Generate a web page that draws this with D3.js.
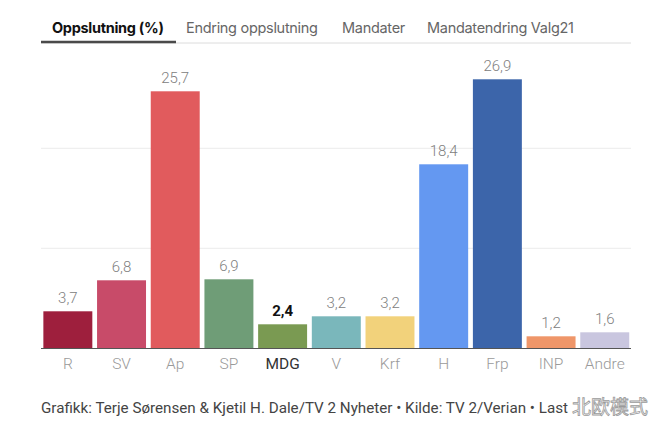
<!DOCTYPE html>
<html><head><meta charset="utf-8">
<script src="https://cdn.jsdelivr.net/npm/d3@7"></script>
<style>
html,body{margin:0;padding:0;background:#fff;}
svg{display:block;}
</style></head>
<body><svg id="c" width="660" height="430"></svg>
<script>
const parties = ["R","SV","Ap","SP","MDG","V","Krf","H","Frp","INP","Andre"];
const values = [3.7,6.8,25.7,6.9,2.4,3.2,3.2,18.4,26.9,1.2,1.6];
const colors = ["#9E1F3D","#C84B69","#E15B5D","#6F9D77","#7A9A52","#7AB7BB","#F2D27B","#6498F1","#3C65AA","#EF9669","#C9C6DF"];
const highlighted = "MDG";
const gridTicks = [10,20];
const tabs = ["Oppslutning (%)","Endring oppslutning","Mandater","Mandatendring Valg21"];
const tabX = [52,186,342,427];
const footer = "Grafikk: Terje Sørensen & Kjetil H. Dale/TV 2 Nyheter • Kilde: TV 2/Verian • Last";
const watermark = "北欧模式";

const svg = d3.select("#c");
const x = d3.scaleBand().domain(parties).range([41,631.6]).paddingInner(0.088).paddingOuter(0.044);
const y = d3.scaleLinear().domain([0,10]).range([348.3,248.3]);

// tabs
svg.append("line").attr("x1",41).attr("x2",631).attr("y1",43).attr("y2",43)
  .attr("stroke","#dcdcdc").attr("stroke-width",1);
svg.append("line").attr("x1",41).attr("x2",176).attr("y1",42).attr("y2",42)
  .attr("stroke","#4a4a4a").attr("stroke-width",2.5);
svg.selectAll("text.tab").data(tabs).join("text").attr("class","tab")
  .attr("x",(d,i)=>tabX[i]).attr("y",33)
  .attr("font-family","Inter, 'Noto Sans', sans-serif")
  .attr("font-size",14.5)
  .attr("font-weight",(d,i)=>i===0?700:400)
  .attr("fill",(d,i)=>i===0?"#111":"#666")
  .attr("letter-spacing",(d,i)=>i===0?-0.3:-0.3)
  .text(d=>d);

// grid
svg.selectAll("line.grid").data(gridTicks).join("line").attr("class","grid")
  .attr("x1",41).attr("x2",631).attr("y1",d=>y(d)).attr("y2",d=>y(d))
  .attr("stroke","#ebebeb").attr("stroke-width",1);

// bars
svg.selectAll("rect.bar").data(parties).join("rect").attr("class","bar")
  .attr("x",d=>x(d)).attr("width",x.bandwidth())
  .attr("y",(d,i)=>y(values[i])).attr("height",(d,i)=>y(0)-y(values[i]))
  .attr("fill",(d,i)=>colors[i]);

// baseline
svg.append("line").attr("x1",41).attr("x2",631).attr("y1",348.5).attr("y2",348.5)
  .attr("stroke","#555").attr("stroke-width",1.2);

// value labels
svg.selectAll("text.val").data(parties).join("text").attr("class","val")
  .attr("x",d=>x(d)+x.bandwidth()/2).attr("y",(d,i)=>y(values[i])-8)
  .attr("text-anchor","middle")
  .attr("font-family","Roboto, 'Liberation Sans', sans-serif")
  .attr("font-size",15)
  .attr("font-weight",d=>d===highlighted?700:300)
  .attr("fill",d=>d===highlighted?"#111":"#808080")
  .text((d,i)=>values[i].toFixed(1).replace(".",","));

// axis labels
svg.selectAll("text.cat").data(parties).join("text").attr("class","cat")
  .attr("x",d=>x(d)+x.bandwidth()/2).attr("y",369)
  .attr("text-anchor","middle")
  .attr("font-family","Roboto, 'Liberation Sans', sans-serif")
  .attr("font-size",15.5)
  .attr("font-weight",d=>d===highlighted?400:300)
  .attr("fill",d=>d===highlighted?"#333":"#9a9a9a")
  .text(d=>d);

// footer
svg.append("text").attr("x",41).attr("y",413)
  .attr("font-family","Roboto, 'Liberation Sans', sans-serif")
  .attr("font-size",15.2).attr("fill","#444")
  .text(footer);

// watermark
svg.append("text").attr("x",572).attr("y",414)
  .attr("font-family","'Noto Sans CJK SC', sans-serif")
  .attr("font-size",19).attr("fill","#fff").attr("stroke","#9a9a9a").attr("stroke-width",0.8)
  .text(watermark);
</script></body></html>
